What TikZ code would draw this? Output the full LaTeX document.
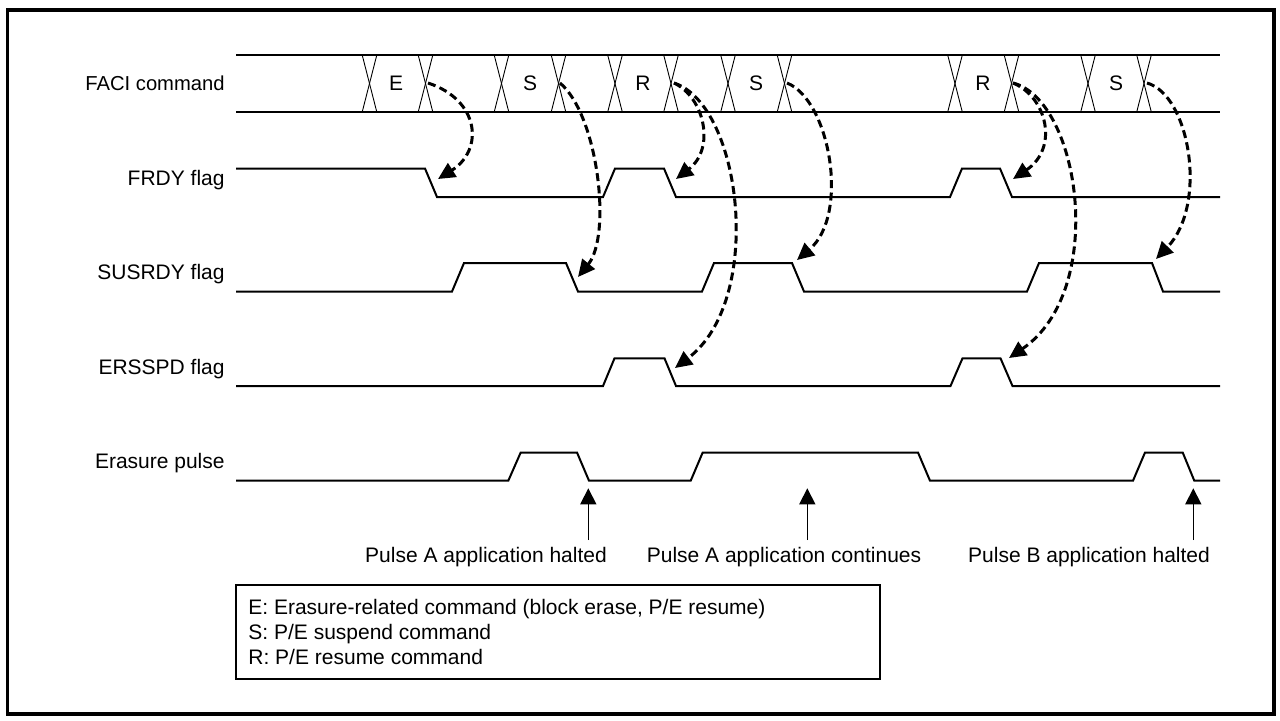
\documentclass[tikz,border=0pt]{standalone}
\usepackage{fontspec}
\setmainfont{Liberation Sans}
\usetikzlibrary{arrows.meta}
\begin{document}
\begin{tikzpicture}[x=0.5pt,y=-0.5pt,
  sig/.style={line width=1pt, line join=miter},
  busline/.style={line width=0.7pt},
  xing/.style={line width=0.45pt},
  lbl/.style={font=\fontsize{10.5}{12.6}\selectfont, inner sep=0pt},
  dep/.style={line width=1.5pt, dash pattern=on 4pt off 2.2pt, -{Triangle[length=8.5pt,width=8pt]}},
  upmark/.style={line width=0.8pt, -{Triangle[length=8pt,width=8pt]}},
]
\useasboundingbox (0,0) rectangle (1280,720);
\draw[line width=1.6pt] (7.5,10) rectangle (1274,714);

% signal names
\node[lbl, anchor=base east, font=\fontsize{10.1}{12}\selectfont] (lfaci) at (225,90.5) {FACI command};
\node[lbl, anchor=base east] (lfrdy) at (225,185) {FRDY flag};
\node[lbl, anchor=base east] (lsus) at (225,279) {SUSRDY flag};
\node[lbl, anchor=base east] (lers) at (225,374) {ERSSPD flag};
\node[lbl, anchor=base east] (lpulse) at (225,468) {Erasure pulse};

% FACI command bus
\draw[busline] (236,55) -- (1220,55);
\draw[busline] (236,112) -- (1220,112);
\foreach \c in {369.5,425.5,501.5,558.5,615,671,728,784.5,955,1011.5,1088,1144} {
  \draw[xing] (\c-7.3,55) -- (\c+7.3,112);
  \draw[xing] (\c+7.3,55) -- (\c-7.3,112);
}
\node[lbl, anchor=base] (cE) at (396,90.5) {E};
\node[lbl, anchor=base] (cS1) at (530,90.5) {S};
\node[lbl, anchor=base] (cR1) at (643,90.5) {R};
\node[lbl, anchor=base] (cS2) at (756,90.5) {S};
\node[lbl, anchor=base] (cR2) at (983,90.5) {R};
\node[lbl, anchor=base] (cS3) at (1116,90.5) {S};

% FRDY
\draw[sig] (236,168.5) -- (425,168.5) -- (437,197) -- (603,197) -- (615,168.5) -- (664,168.5) -- (676,197) -- (950,197) -- (962,168.5) -- (1000,168.5) -- (1012,197) -- (1220,197);
% SUSRDY
\draw[sig] (236,291.5) -- (452,291.5) -- (464,263) -- (566,263) -- (578,291.5) -- (702,291.5) -- (714,263) -- (792,263) -- (804,291.5) -- (1027,291.5) -- (1039,263) -- (1152,263) -- (1163,291.5) -- (1220,291.5);
% ERSSPD
\draw[sig] (236,386) -- (603,386) -- (614.5,358.3) -- (664.5,358.3) -- (676,386) -- (950.5,386) -- (962.5,358.3) -- (1000.5,358.3) -- (1012.5,386) -- (1220,386);
% Erasure pulse
\draw[sig] (236,480.7) -- (508.3,480.7) -- (520.7,452.5) -- (577,452.5) -- (589,480.7) -- (690.7,480.7) -- (702.7,452.5) -- (918,452.5) -- (930,480.7) -- (1133,480.7) -- (1145,452.5) -- (1182.7,452.5) -- (1194.3,480.7) -- (1220,480.7);

% dependency arrows
\coordinate (s1) at (428,83);   \coordinate (t1) at (438,179);
\coordinate (s2) at (560,83);   \coordinate (t2) at (578,277);
\coordinate (s3) at (674,83);   \coordinate (t3a) at (676,179); \coordinate (t3b) at (675,368);
\coordinate (s4) at (787,83);   \coordinate (t4) at (797,260);
\coordinate (s5) at (1013,83);  \coordinate (t5a) at (1013,179); \coordinate (t5b) at (1009,358);
\coordinate (s6) at (1147,83);  \coordinate (t6) at (1156,259);

\draw[dep] (s1) .. controls (480,100) and (484,150) .. (t1);
\draw[dep] (s2) .. controls (598,115) and (612,235) .. (t2);
\draw[dep] (s3) .. controls (704,97) and (716,148) .. (t3a);
\draw[dep] (s3) .. controls (742,105) and (765,300) .. (t3b);
\draw[dep] (s4) .. controls (830,100) and (850,215) .. (t4);
\draw[dep] (s5) .. controls (1047,97) and (1059,148) .. (t5a);
\draw[dep] (s5) .. controls (1080,100) and (1108,290) .. (t5b);
\draw[dep] (s6) .. controls (1190,95) and (1208,205) .. (t6);

% pulse markers
\coordinate (pa0) at (588.3,540); \coordinate (pa1) at (588.3,488.3);
\coordinate (pb0) at (807.3,540); \coordinate (pb1) at (807.3,488.3);
\coordinate (pc0) at (1193.3,540); \coordinate (pc1) at (1193.3,488.3);
\draw[upmark] (pa0) -- (pa1);
\draw[upmark] (pb0) -- (pb1);
\draw[upmark] (pc0) -- (pc1);
\node[lbl, anchor=base] (nA) at (486,562.5) {Pulse A application halted};
\node[lbl, anchor=base] (nB) at (784,562.5) {Pulse A application continues};
\node[lbl, anchor=base] (nC) at (1089,562.5) {Pulse B application halted};

% legend
\draw[line width=0.75pt] (236,585) rectangle (880,679);
\node[lbl, anchor=base west] (lg1) at (248,614.2) {E: Erasure-related command (block erase, P/E resume)};
\node[lbl, anchor=base west] (lg2) at (248,639.2) {S: P/E suspend command};
\node[lbl, anchor=base west] (lg3) at (248,664.8) {R: P/E resume command};
\end{tikzpicture}
\end{document}
